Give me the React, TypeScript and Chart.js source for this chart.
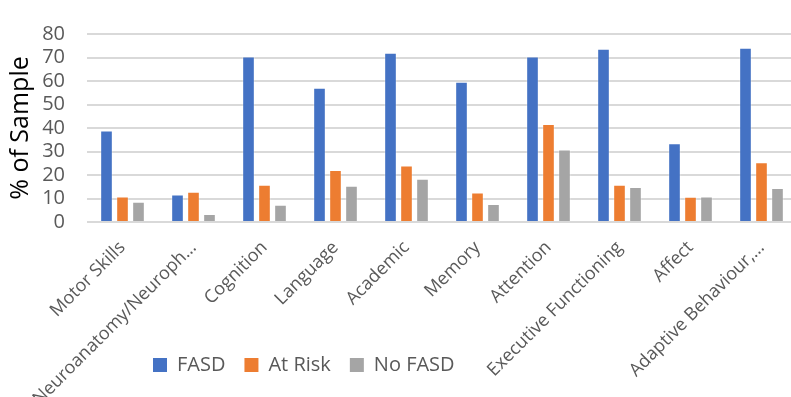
import React, { useEffect, useRef } from "react";
import { Chart, registerables } from "chart.js";

Chart.register(...registerables);

const categories = [
  "Motor Skills",
  "Neuroanatomy/Neuroph…",
  "Cognition",
  "Language",
  "Academic",
  "Memory",
  "Attention",
  "Executive Functioning",
  "Affect",
  "Adaptive Behaviour,…",
];
const fasd = [38.9, 11.7, 70.4, 57.1, 72.0, 59.7, 70.4, 73.7, 33.5, 74.2];
const atRisk = [10.9, 12.9, 15.9, 22.1, 24.0, 12.6, 41.7, 15.9, 10.7, 25.4];
const noFasd = [8.6, 3.4, 7.3, 15.4, 18.4, 7.7, 30.8, 14.9, 10.9, 14.5];
const yTicks = [0, 10, 20, 30, 40, 50, 60, 70, 80];

const FONT = "'Open Sans', 'DejaVu Sans', sans-serif";
const TEXT = "#595959";

const legendShift = {
  id: "legendShift",
  afterLayout(chart: any) {
    const lg = chart.legend;
    if (lg) {
      const w = lg.right - lg.left;
      const h = lg.bottom - lg.top;
      lg.left = 134;
      lg.right = 134 + w;
      lg.top = 336;
      lg.bottom = 336 + h;
    }
    const xs = chart.scales.x;
    if (xs) xs.bottom = chart.height;
  },
};

export default function App() {
  const ref = useRef<HTMLCanvasElement | null>(null);
  useEffect(() => {
    if (!ref.current) return;
    const edge = "rgba(255,255,255,0.28)";
    const chart = new Chart(ref.current, {
      type: "bar",
      data: {
        labels: categories,
        datasets: [
          { label: "FASD", data: fasd, backgroundColor: "#4472C4", borderColor: edge, borderWidth: 1 },
          { label: "At Risk", data: atRisk, backgroundColor: "#ED7D31", borderColor: edge, borderWidth: 1 },
          { label: "No FASD", data: noFasd, backgroundColor: "#A5A5A5", borderColor: edge, borderWidth: 1 },
        ],
      },
      options: {
        responsive: false,
        animation: false,
        devicePixelRatio: 1,
        layout: { padding: { top: 19, right: 3, left: 0, bottom: 0 } },
        datasets: {
          bar: { categoryPercentage: 0.676, barPercentage: 0.79 },
        },
        plugins: {
          legend: {
            position: "bottom",
            align: "start",
            labels: {
              boxWidth: 14,
              boxHeight: 14,
              padding: 19,
              color: TEXT,
              font: { family: FONT, size: 20 },
              generateLabels: (chart: any) =>
                chart.data.datasets.map((ds: any, i: number) => ({
                  text: ds.label,
                  fillStyle: ds.backgroundColor,
                  strokeStyle: ds.backgroundColor,
                  lineWidth: 0,
                  fontColor: TEXT,
                  hidden: false,
                  datasetIndex: i,
                })),
            },
          },
          tooltip: { enabled: false },
        },
        scales: {
          x: {
            grid: { display: false },
            border: { display: false },
            ticks: {
              autoSkip: false,
              minRotation: 45,
              maxRotation: 45,
              color: TEXT,
              padding: 7,
              font: { family: FONT, size: 18 },
            },
            afterFit: (scale: any) => {
              const lh = scale.chart.legend ? scale.chart.legend.height : 0;
              scale.height = 397 - 222 - lh;
            },
          },
          y: {
            min: 0,
            max: 80,
            afterBuildTicks: (scale: any) => {
              scale.ticks = yTicks.map((v) => ({ value: v }));
            },
            grid: { color: "#D9D9D9", lineWidth: 2, drawTicks: false },
            border: { display: false },
            ticks: {
              autoSkip: false,
              color: TEXT,
              padding: 22,
              font: { family: FONT, size: 20 },
            },
            title: {
              display: true,
              text: "% of Sample",
              color: "#000000",
              padding: { top: 6, bottom: 0 },
              font: { family: FONT, size: 25 },
            },
            afterFit: (scale: any) => {
              scale.width = 87;
            },
          },
        },
      },
      plugins: [legendShift],
    });
    return () => chart.destroy();
  }, []);
  return (
    <div
      style={{
        position: "absolute",
        left: 0,
        top: 0,
        width: 791,
        height: 397,
        overflow: "hidden",
        background: "#fff",
      }}
    >
      <canvas ref={ref} width={800} height={397} style={{ display: "block" }} />
    </div>
  );
}
